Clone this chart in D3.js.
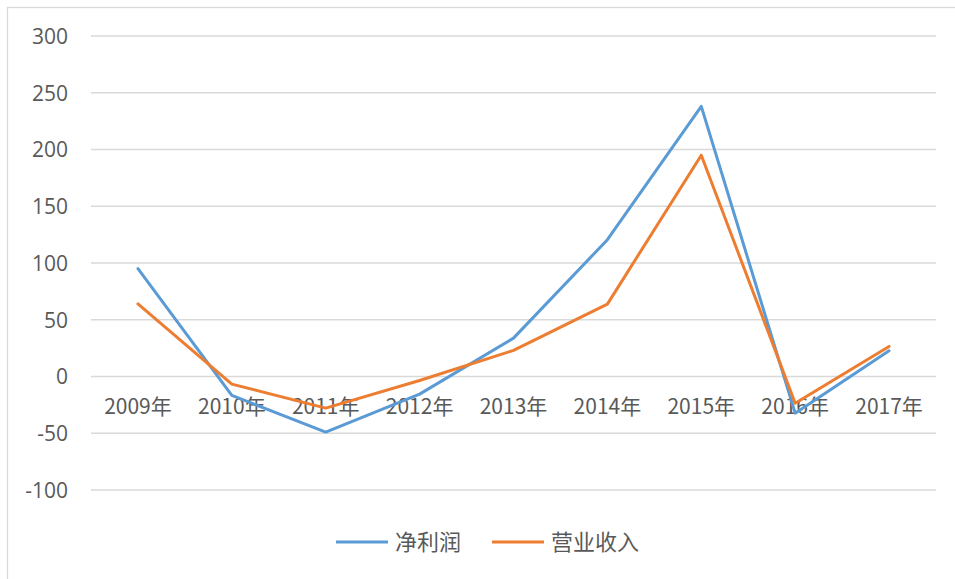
<!DOCTYPE html>
<html>
<head>
<meta charset="utf-8">
<script src="https://cdn.jsdelivr.net/npm/d3@7"></script>
<style>
  body { margin: 0; background: #fff; }
  text { font-family: "Noto Sans CJK SC", "Noto Sans", sans-serif; fill: #595959; }
</style>
</head>
<body>
<div id="chart"></div>
<script>
const years = ['2009年', '2010年', '2011年', '2012年', '2013年', '2014年', '2015年', '2016年', '2017年']
const netProfit = [95, -16.7, -49, -15.5, 33.8, 120.5, 238, -32.3, 22.7]
const revenue = [64, -6.7, -27.9, -3.5, 23, 63.8, 195, -23.5, 26.5]
const yTicks = [-100, -50, 0, 50, 100, 150, 200, 250, 300]
const seriesNames = ['净利润', '营业收入']

const width = 955
const height = 579
const left = 91
const right = 936

const svg = d3.select('#chart')
  .append('svg')
  .attr('width', width)
  .attr('height', height)

// chart border
svg.append('rect')
  .attr('x', 7.5)
  .attr('y', 7.5)
  .attr('width', 960)
  .attr('height', 600)
  .attr('fill', 'none')
  .attr('stroke', '#d9d9d9')
  .attr('stroke-width', 1.3)

const x = d3.scaleBand()
  .domain(years)
  .range([left, right])

const y = d3.scaleLinear()
  .domain([-100, 300])
  .range([490, 36])

// gridlines
svg.append('g')
  .selectAll('line')
  .data(yTicks)
  .enter()
  .append('line')
  .attr('x1', left)
  .attr('x2', right)
  .attr('y1', d => y(d))
  .attr('y2', d => y(d))
  .attr('stroke', '#d9d9d9')
  .attr('stroke-width', 1.3)

// y axis labels (plain hyphen for negatives)
const yAxis = d3.axisLeft(y).tickValues(yTicks).tickSize(0).tickPadding(0)
  .tickFormat(d => String(d))
svg.append('g')
  .attr('transform', 'translate(68, 0)')
  .call(yAxis)
  .call(g => g.select('.domain').remove())
  .selectAll('text')
  .style('font-size', '21px')
  .style('font-family', '"Open Sans", "Noto Sans", sans-serif')
  .attr('fill', '#595959')
  .attr('dy', '0.35em')

// x axis labels sit next to the zero line
const xAxis = d3.axisBottom(x).tickSize(0).tickPadding(0)
svg.append('g')
  .attr('transform', `translate(0, ${y(0)})`)
  .call(xAxis)
  .call(g => g.select('.domain').remove())
  .selectAll('text')
  .style('font-size', '21px')
  .attr('fill', '#595959')
  .attr('y', 23)
  .attr('dy', '0.71em')

const line = d3.line()
  .x((d, i) => x(years[i]) + x.bandwidth() / 2)
  .y(d => y(d))

const colors = ['#5b9bd5', '#ed7d31']
const series = [netProfit, revenue]

series.forEach((s, i) => {
  svg.append('path')
    .datum(s)
    .attr('d', line)
    .attr('fill', 'none')
    .attr('stroke', colors[i])
    .attr('stroke-width', 3)
    .attr('stroke-linejoin', 'round')
    .attr('stroke-linecap', 'round')
})

// legend
const legendX = [336, 492]
const legend = svg.append('g')
seriesNames.forEach((name, i) => {
  legend.append('line')
    .attr('x1', legendX[i])
    .attr('x2', legendX[i] + 52)
    .attr('y1', 542)
    .attr('y2', 542)
    .attr('stroke', colors[i])
    .attr('stroke-width', 3)
  legend.append('text')
    .text(name)
    .attr('x', legendX[i] + 59)
    .attr('y', 542)
    .attr('dy', '0.35em')
    .style('font-size', '22px')
})
</script>
</body>
</html>
